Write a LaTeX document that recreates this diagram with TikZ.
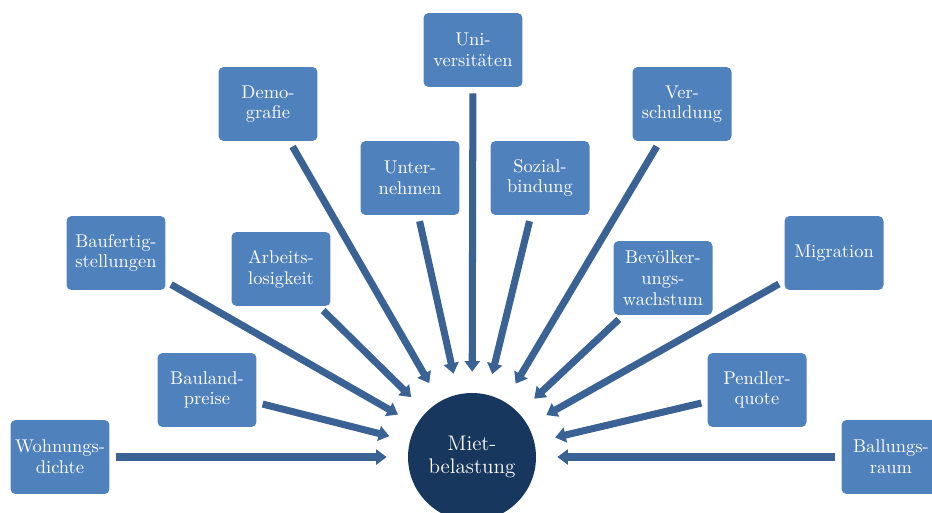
\documentclass[tikz,border=0pt]{standalone}
\usepackage{tikz}
\usetikzlibrary{arrows.meta}
\definecolor{boxblue}{RGB}{79,129,189}
\definecolor{arrowblue}{RGB}{58,98,148}
\definecolor{circblue}{RGB}{23,55,94}

\begin{document}
\begin{tikzpicture}[x=0.02cm, y=-0.02cm, font=\fontsize{10.5}{11.8}\selectfont]
		\tikzset{
			factor/.style={rectangle, rounded corners=0.1cm, fill=boxblue, text=white,
				minimum width=1.98cm, minimum height=1.48cm, align=center, inner sep=1pt},
			effect/.style={circle, fill=circblue, text=white, minimum size=2.56cm,
				align=center, font=\fontsize{12}{13.5}\selectfont},
			push/.style={draw=arrowblue, line width=4pt, -{Triangle[width=8.5pt,length=6pt]},
				shorten <=0.12cm, shorten >=0.42cm}
		}
		\useasboundingbox (0,0) rectangle (932,513);
		% centre
		\node[effect] (miete) at (472,457) {Miet-\\belastung};
		%%% left side
		\node[factor] (dichte) at (60,457) {Wohnungs-\\dichte};
		\node[factor] (bauland) at (207,390) {Bauland-\\preise};
		\node[factor] (baufert) at (116,253) {Baufertig-\\stellungen};
		\node[factor] (arbeit) at (281,269) {Arbeits-\\losigkeit};
		\node[factor] (demo) at (268,104) {Demo-\\grafie};
		\node[factor] (untern) at (410,178) {Unter-\\nehmen};
		%%% top
		\node[factor] (uni) at (473,50) {Uni-\\versitäten};
		%%% right side
		\node[factor] (sozial) at (540,178) {Sozial-\\bindung};
		\node[factor] (schuld) at (682,104) {Ver-\\schuldung};
		\node[factor] (bevoelk) at (663,278) {Bevölker-\\ungs-\\wachstum};
		\node[factor] (migr) at (834,253) {Migration};
		\node[factor] (pendler) at (757,390) {Pendler-\\quote};
		\node[factor] (ballung) at (891,457) {Ballungs-\\raum};
		% arrows into the centre
		\foreach \f in {dichte,bauland,baufert,arbeit,demo,untern,uni,
			sozial,schuld,bevoelk,migr,pendler,ballung}
			\draw[push] (\f) -- (miete);
	\end{tikzpicture}
\end{document}
